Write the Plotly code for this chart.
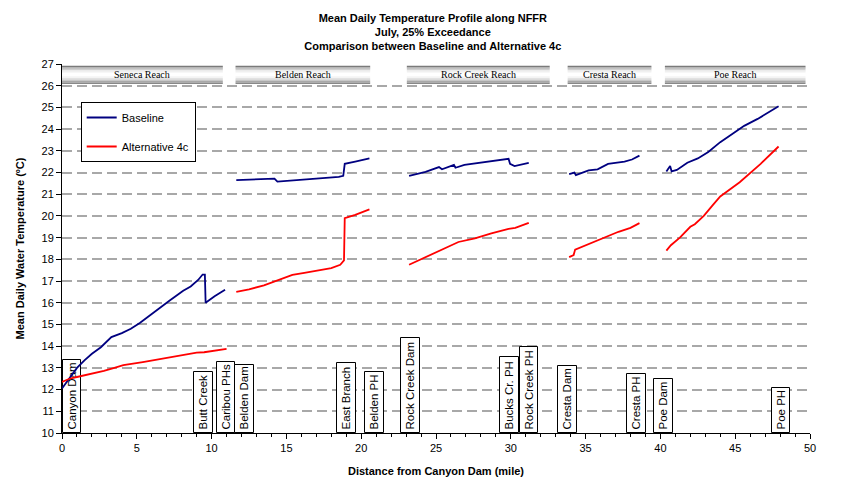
import plotly.graph_objects as go

# ---------------- data ----------------
reach_names = ["Seneca Reach", "Belden Reach", "Rock Creek Reach", "Cresta Reach", "Poe Reach"]
reach_start = [0.0, 11.6, 23.05, 33.8, 40.3]
reach_end = [10.75, 20.6, 32.6, 39.4, 49.7]

landmark_names = ["Canyon Dam", "Butt Creek", "Caribou PHs", "Belden Dam", "East Branch",
                  "Belden PH", "Rock Creek Dam", "Bucks Cr. PH", "Rock Creek PH",
                  "Cresta Dam", "Cresta PH", "Poe Dam", "Poe PH"]
landmark_miles = [0.67, 9.47, 10.97, 12.2, 19.0, 20.87, 23.3, 29.9, 31.22, 33.77, 38.4, 40.23, 48.07]
landmark_tops = [13.36, 12.81, 13.27, 13.13, 13.23, 12.81, 14.38, 13.5, 13.96, 13.09, 12.72, 12.49, 12.07]

baseline_mile = [0.0, 0.5, 1.0, 1.5, 2.0, 2.6, 3.3, 4.0, 4.6, 5.2, 6.1, 7.2, 8.1, 8.6, 9.1, 9.4, 9.55, 9.6, 10.2, 10.9, None,
                 11.65, 12.5, 13.5, 14.2, 14.4, 15.2, 16.6, 17.6, 18.5, 18.8, 18.9, 19.6, 20.55, None,
                 23.2, 24.3, 25.2, 25.4, 26.2, 26.3, 26.9, 28.0, 29.2, 29.85, 29.95, 30.25, 31.2, None,
                 33.9, 34.25, 34.35, 35.2, 35.8, 36.5, 37.6, 38.1, 38.6, None,
                 40.4, 40.65, 40.75, 41.1, 41.8, 42.5, 43.2, 44.0, 44.9, 45.6, 46.5, 47.35, 47.9]
baseline_temp = [12.05, 12.5, 13.0, 13.35, 13.65, 13.95, 14.42, 14.6, 14.8, 15.07, 15.55, 16.1, 16.55, 16.75, 17.05, 17.3, 17.3, 16.0, 16.3, 16.6, None,
                 21.65, 21.67, 21.68, 21.72, 21.58, 21.62, 21.7, 21.75, 21.8, 21.85, 22.4, 22.5, 22.65, None,
                 21.85, 22.03, 22.25, 22.15, 22.35, 22.22, 22.35, 22.45, 22.55, 22.63, 22.4, 22.3, 22.45, None,
                 21.93, 22.0, 21.88, 22.1, 22.15, 22.4, 22.5, 22.6, 22.78, None,
                 22.05, 22.3, 22.05, 22.12, 22.45, 22.65, 22.95, 23.4, 23.82, 24.15, 24.47, 24.8, 25.05]

alt_mile = [0.0, 0.5, 1.0, 2.0, 2.8, 3.5, 4.1, 5.4, 6.8, 8.1, 9.0, 9.5, 10.2, 11.0, None,
            11.65, 12.5, 13.5, 14.3, 14.5, 15.4, 16.2, 17.0, 18.0, 18.6, 18.85, 18.9, 19.6, 20.55, None,
            23.2, 24.3, 25.4, 26.5, 27.6, 28.7, 29.85, 30.3, 31.2, None,
            33.9, 34.2, 34.3, 35.4, 36.2, 37.2, 38.0, 38.6, None,
            40.4, 40.7, 41.3, 42.0, 42.3, 42.9, 43.5, 44.0, 45.3, 46.7, 47.9]
alt_temp = [12.35, 12.5, 12.58, 12.72, 12.86, 13.0, 13.13, 13.27, 13.45, 13.6, 13.7, 13.72, 13.8, 13.88, None,
            16.5, 16.62, 16.8, 17.0, 17.05, 17.28, 17.38, 17.47, 17.6, 17.75, 17.95, 19.9, 20.05, 20.3, None,
            17.75, 18.1, 18.42, 18.8, 18.97, 19.2, 19.4, 19.45, 19.68, None,
            18.1, 18.2, 18.45, 18.75, 18.97, 19.27, 19.45, 19.67, None,
            18.4, 18.65, 19.0, 19.5, 19.62, 20.0, 20.5, 20.9, 21.55, 22.4, 23.2]

threshold = 20
y_min, y_max = 10, 27
x_min, x_max = 0, 50

# ---------------- figure ----------------
FONT = "Liberation Sans, Arial, sans-serif"
fig = go.Figure()

fig.add_trace(go.Bar(
    x=landmark_miles,
    y=[t - y_min for t in landmark_tops],
    base=y_min,
    width=1.25,
    text=landmark_names,
    textangle=-90,
    textposition="inside",
    insidetextanchor="start",
    constraintext="none",
    textfont=dict(family=FONT, size=11.5, color="black"),
    marker=dict(color="white", line=dict(color="black", width=1)),
    showlegend=False,
    hoverinfo="skip",
))

fig.add_trace(go.Scatter(x=baseline_mile, y=baseline_temp, mode="lines", name="Baseline",
                         line=dict(color="#000080", width=1.8), legendgroup="a", connectgaps=False))
fig.add_trace(go.Scatter(x=alt_mile, y=alt_temp, mode="lines", name="Alternative 4c",
                         line=dict(color="#ff0000", width=1.8), legendgroup="b", connectgaps=False))

shapes = []
# threshold line
shapes.append(dict(type="line", xref="paper", x0=0, x1=1, yref="y", y0=threshold, y1=threshold,
                   line=dict(color="black", width=1.5, dash="10px,5px"), layer="between"))

# reach header boxes with metallic gradient
grad = ["#7a7a7a", "#a8a8a8", "#cfcfcf", "#e8e8e8", "#f7f7f7", "#ffffff", "#ffffff",
        "#f4f4f4", "#e2e2e2", "#c8c8c8", "#a8a8a8", "#888888"]
hb0, hb1 = 26.08, 26.92
n = len(grad)
annotations = []
for name, s, e in zip(reach_names, reach_start, reach_end):
    for i, c in enumerate(grad):
        y1 = hb1 - (hb1 - hb0) * i / n
        y0 = hb1 - (hb1 - hb0) * (i + 1) / n
        shapes.append(dict(type="rect", xref="x", yref="y", x0=s, x1=e, y0=y0, y1=y1,
                           fillcolor=c, line=dict(width=0), layer="above"))
    annotations.append(dict(x=(s + e) / 2, y=(hb0 + hb1) / 2, xref="x", yref="y", text=name,
                            showarrow=False, font=dict(family="Liberation Serif, Times New Roman, serif",
                                                       size=10, color="black")))

fig.update_layout(
    width=833, height=483,
    margin=dict(l=50, r=31, t=56, b=58),
    paper_bgcolor="white", plot_bgcolor="white",
    font=dict(family=FONT, size=11, color="black"),
    title=dict(text="Mean Daily Temperature Profile along NFFR<br>July, 25% Exceedance<br>Comparison between Baseline and Alternative 4c",
               x=0.51, xanchor="center", y=0.972, yanchor="top", yref="container",
               font=dict(family=FONT, size=11, color="black", weight="bold")),
    xaxis=dict(range=[x_min, x_max], tick0=0, dtick=5, ticks="outside", ticklen=5, tickcolor="black",
               showline=True, linecolor="black", linewidth=1, showgrid=False, zeroline=False,
               minor=dict(dtick=1, ticks="outside", ticklen=3, tickcolor="black", showgrid=False),
               title=dict(text="Distance from Canyon Dam (mile)", standoff=14,
                          font=dict(size=11, weight="bold")),
               tickfont=dict(size=11)),
    yaxis=dict(range=[y_min, y_max], tick0=10, dtick=1, ticks="outside", ticklen=5, tickcolor="black",
               showline=True, linecolor="black", linewidth=1, zeroline=False,
               showgrid=True, gridcolor="#a8a8a8", gridwidth=1.5, griddash="10px,5px",
               title=dict(text="Mean Daily Water Temperature (ºC)", standoff=14,
                          font=dict(size=11, weight="bold")),
               tickfont=dict(size=11)),
    yaxis2=dict(range=[y_min, y_max], tick0=10, dtick=1, ticks="outside", ticklen=5, tickcolor="black",
                showline=True, linecolor="black", linewidth=1, zeroline=False, showgrid=False,
                overlaying="y", side="right", anchor="x", tickfont=dict(size=11)),
    legend=dict(x=0.025, y=0.897, xanchor="left", yanchor="top", bordercolor="black", borderwidth=1,
                bgcolor="white", font=dict(size=11), tracegroupgap=10, traceorder="grouped"),
    shapes=shapes,
    annotations=annotations,
    bargap=0,
)

fig.write_html("out.html")
